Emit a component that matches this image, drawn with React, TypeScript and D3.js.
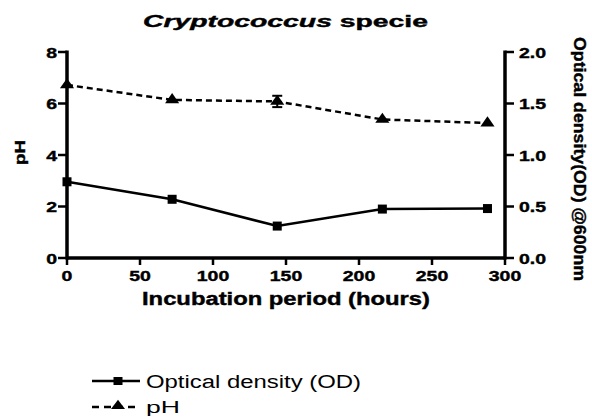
import React from "react";
import * as d3 from "d3";

// hours sampled
const hours = [0, 72, 144, 216, 288];
// optical density (right axis, 0..2)
const odValues = [0.74, 0.57, 0.31, 0.475, 0.48];
// pH (left axis, 0..8)
const phValues = [6.72, 6.14, 6.08, 5.38, 5.24];
const phErrors = [0, 0, 0.22, 0, 0];

const xTicks = [0, 50, 100, 150, 200, 250, 300];
const leftTicks = [0, 2, 4, 6, 8];
const rightTicks = [0, 0.5, 1.0, 1.5, 2.0];

const W = 592;
const H = 418;
const font = "'Liberation Sans', Arial, sans-serif";
// the reference picture is stretched sideways, text follows that
const SX = 1.3;

function Stretched({ x, y, anchor, size, bold, children }: any) {
  return (
    <text
      transform={`translate(${x},${y}) scale(${SX},1)`}
      textAnchor={anchor}
      fontSize={size}
      fontWeight={bold ? "bold" : "normal"}
      stroke={bold ? "#000" : "none"}
      strokeWidth={bold ? 0.4 : 0}
    >
      {children}
    </text>
  );
}

export default function App() {
  const x = d3.scaleLinear().domain([0, 300]).range([67, 505]);
  const yL = d3.scaleLinear().domain([0, 8]).range([258, 52]);
  const yR = d3.scaleLinear().domain([0, 2]).range([258, 52]);

  const odLine = d3.line<number>()
    .x((_, i) => x(hours[i]))
    .y(d => yR(d));
  const phLine = d3.line<number>()
    .x((_, i) => x(hours[i]))
    .y(d => yL(d));

  const tri = d3.symbol().type(d3.symbolTriangle).size(60)() || "";
  const sq = 9;

  const bottom = yL(0);

  return (
    <svg
      width={W}
      height={H}
      style={{ position: "absolute", left: 0, top: 0, background: "#fff" }}
      fontFamily={font}
    >
      {/* title */}
      <text
        x={143}
        y={27}
        fontSize={17}
        fontWeight="bold"
        stroke="#000"
        strokeWidth={0.4}
        textLength={285}
        lengthAdjust="spacingAndGlyphs"
      >
        <tspan fontStyle="italic">Cryptococcus</tspan> specie
      </text>

      {/* axes */}
      <line x1={x(0)} x2={x(0)} y1={yL(8) - 1.5} y2={bottom + 1.5} stroke="#000" strokeWidth={3.5} />
      <line x1={x(300)} x2={x(300)} y1={yR(2) - 1.5} y2={bottom + 1.5} stroke="#000" strokeWidth={3.5} />
      <line x1={x(0)} x2={x(300)} y1={bottom} y2={bottom} stroke="#000" strokeWidth={3.5} />

      {leftTicks.map(t => (
        <g key={"l" + t}>
          <line x1={x(0) - 9} x2={x(0)} y1={yL(t)} y2={yL(t)} stroke="#000" strokeWidth={2.5} />
          <Stretched x={x(0) - 10} y={yL(t) + 5.5} anchor="end" size={15} bold>{t}</Stretched>
        </g>
      ))}
      {rightTicks.map(t => (
        <g key={"r" + t}>
          <line x1={x(300)} x2={x(300) + 9} y1={yR(t)} y2={yR(t)} stroke="#000" strokeWidth={2.5} />
          <Stretched x={x(300) + 14} y={yR(t) + 5.5} anchor="start" size={15} bold>{t.toFixed(1)}</Stretched>
        </g>
      ))}
      {xTicks.map(t => (
        <g key={"x" + t}>
          <line x1={x(t)} x2={x(t)} y1={bottom} y2={bottom + 7} stroke="#000" strokeWidth={2.5} />
          <Stretched x={x(t)} y={bottom + 23} anchor="middle" size={15} bold>{t}</Stretched>
        </g>
      ))}

      {/* axis titles */}
      <text
        x={142}
        y={305}
        fontSize={18}
        fontWeight="bold"
        stroke="#000"
        strokeWidth={0.4}
        textLength={288}
        lengthAdjust="spacingAndGlyphs"
      >Incubation period (hours)</text>
      <text
        transform={`translate(25,165) rotate(-90)`}
        fontSize={15}
        fontWeight="bold"
        stroke="#000"
        strokeWidth={0.4}
        textLength={25}
        lengthAdjust="spacingAndGlyphs"
      >pH</text>
      <text
        transform={`translate(574,37) rotate(90)`}
        textAnchor="start"
        fontSize={17}
        fontWeight="bold"
        stroke="#000"
        strokeWidth={0.4}
        textLength={244}
        lengthAdjust="spacingAndGlyphs"
      >Optical density(OD) @600nm</text>

      {/* pH series */}
      <path d={phLine(phValues) || ""} fill="none" stroke="#000" strokeWidth={2.5} strokeDasharray="6,4" />
      {phValues.map((v, i) => phErrors[i] > 0 ? (
        <g key={"e" + i} stroke="#000" strokeWidth={2}>
          <line x1={x(hours[i])} x2={x(hours[i])} y1={yL(v + phErrors[i])} y2={yL(v - phErrors[i])} />
          <line x1={x(hours[i]) - 5} x2={x(hours[i]) + 5} y1={yL(v + phErrors[i])} y2={yL(v + phErrors[i])} />
          <line x1={x(hours[i]) - 5} x2={x(hours[i]) + 5} y1={yL(v - phErrors[i])} y2={yL(v - phErrors[i])} />
        </g>
      ) : null)}
      {phValues.map((v, i) => (
        <path key={"t" + i} d={tri} transform={`translate(${x(hours[i])},${yL(v)}) scale(1.2,1)`} fill="#000" />
      ))}

      {/* OD series */}
      <path d={odLine(odValues) || ""} fill="none" stroke="#000" strokeWidth={2.5} />
      {odValues.map((v, i) => (
        <rect key={"s" + i} x={x(hours[i]) - sq / 2} y={yR(v) - sq / 2} width={sq} height={sq} fill="#000" />
      ))}

      {/* legend */}
      <g>
        <line x1={92} x2={140} y1={381} y2={381} stroke="#000" strokeWidth={2.5} />
        <rect x={118 - 4.5} y={381 - 4} width={9} height={8} fill="#000" />
        <text x={146} y={388} fontSize={18} textLength={215} lengthAdjust="spacingAndGlyphs">Optical density (OD)</text>
        <line x1={92} x2={140} y1={407} y2={407} stroke="#000" strokeWidth={2.5} strokeDasharray="7,5" />
        <path d={d3.symbol().type(d3.symbolTriangle).size(50)() || ""} transform="translate(118,406) scale(1.3,1)" fill="#000" />
        <text x={146} y={413} fontSize={17} textLength={34} lengthAdjust="spacingAndGlyphs">pH</text>
      </g>
    </svg>
  );
}
